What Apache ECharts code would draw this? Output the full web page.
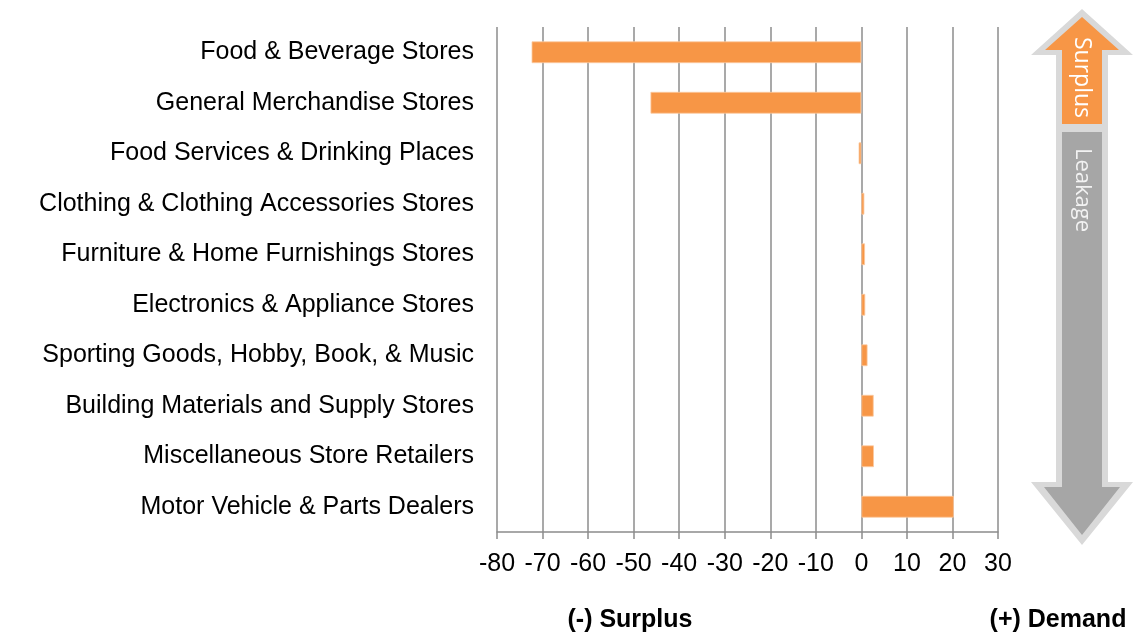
<!DOCTYPE html>
<html>
<head>
<meta charset="utf-8">
<title>Retail Leakage / Surplus</title>
<script src="https://cdn.jsdelivr.net/npm/echarts@6/dist/echarts.min.js"></script>
<style>
  html, body { margin: 0; padding: 0; background: #fff; }
  #chart { width: 1145px; height: 637px; }
</style>
</head>
<body>
<div id="chart"></div>
<script>
// categories, top to bottom as shown
var categories = [
    'Food & Beverage Stores',
    'General Merchandise Stores',
    'Food Services & Drinking Places',
    'Clothing & Clothing Accessories Stores',
    'Furniture & Home Furnishings Stores',
    'Electronics & Appliance Stores',
    'Sporting Goods, Hobby, Book, & Music',
    'Building Materials and Supply Stores',
    'Miscellaneous Store Retailers',
    'Motor Vehicle & Parts Dealers'
];
// leakage/surplus factor values
var values = [-72.4, -46.3, -0.6, 0.65, 0.8, 0.85, 1.35, 2.7, 2.75, 20.3];
var xTicks = { min: -80, max: 30, interval: 10 };

var chart = echarts.init(document.getElementById('chart'));

var font = '"Liberation Sans", Arial, sans-serif';

var option = {
    animation: false,
    grid: { left: 497, right: 147, top: 27, bottom: 105, containLabel: false },
    xAxis: {
        type: 'value',
        min: xTicks.min,
        max: xTicks.max,
        interval: xTicks.interval,
        axisLine: { show: true, lineStyle: { color: '#8c8c8c', width: 1.5 } },
        axisTick: { show: true, length: 7, lineStyle: { color: '#8c8c8c', width: 1.5 } },
        splitLine: { show: true, lineStyle: { color: '#8c8c8c', width: 1.5 } },
        axisLabel: { color: '#000', fontSize: 25, fontFamily: font, margin: 20 }
    },
    yAxis: {
        type: 'category',
        data: categories,
        inverse: true,
        axisLine: { show: false },
        axisTick: { show: false },
        axisLabel: { color: '#000', fontSize: 25, fontFamily: font, margin: 23 }
    },
    series: [{
        type: 'bar',
        data: values,
        barCategoryGap: '57%',
        itemStyle: { color: '#f79646', borderColor: '#fbc9a0', borderWidth: 0.8 }
    }],
    graphic: [
        {
            type: 'text', x: 630, y: 620,
            style: { text: '(-) Surplus', fill: '#000', align: 'center', verticalAlign: 'middle', font: 'bold 25px ' + font }
        },
        {
            type: 'text', x: 1058, y: 620,
            style: { text: '(+) Demand', fill: '#000', align: 'center', verticalAlign: 'middle', font: 'bold 25px ' + font }
        },
        // right-hand arrow: outer light border
        {
            type: 'polygon', z: 10,
            shape: { points: [[1082, 9], [1133, 55], [1108, 55], [1108, 129], [1056, 129], [1056, 55], [1031, 55]] },
            style: { fill: '#d9d9d9' }
        },
        {
            type: 'polygon', z: 10,
            shape: { points: [[1056, 129], [1108, 129], [1108, 482], [1133, 482], [1082, 545], [1031, 482], [1056, 482]] },
            style: { fill: '#d9d9d9' }
        },
        {
            type: 'polygon', z: 11,
            shape: { points: [[1082, 17], [1119, 50], [1102, 50], [1102, 124], [1062, 124], [1062, 50], [1045, 50]] },
            style: { fill: '#f79646' }
        },
        {
            type: 'polygon', z: 11,
            shape: { points: [[1062, 132], [1102, 132], [1102, 487], [1120, 487], [1082, 535], [1044, 487], [1062, 487]] },
            style: { fill: '#a6a6a6' }
        },
        {
            type: 'text', z: 12, x: 1082, y: 37, rotation: -Math.PI / 2,
            style: { text: 'Surplus', fill: '#fff', verticalAlign: 'middle', font: '23px "Open Sans", sans-serif' }
        },
        {
            type: 'text', z: 12, x: 1082, y: 148, rotation: -Math.PI / 2,
            style: { text: 'Leakage', fill: '#f2f2f2', verticalAlign: 'middle', font: '22px "Open Sans", sans-serif' }
        }
    ]
};

chart.setOption(option);
</script>
</body>
</html>
